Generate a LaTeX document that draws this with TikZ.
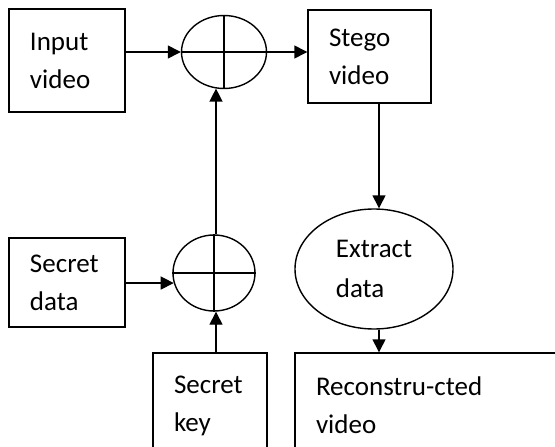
\documentclass[tikz,border=0pt]{standalone}
\usepackage{fontspec}
\setmainfont{Carlito}
\usetikzlibrary{arrows.meta,shapes.geometric}

\tikzset{
  box/.style={draw, line width=1.4pt, rectangle, inner ysep=0pt, inner xsep=21pt,
              align=left, font=\fontsize{27}{38}\selectfont},
  mixer/.style={draw, line width=1.4pt, ellipse, inner sep=0pt},
  oval/.style={draw, line width=1.4pt, ellipse, inner sep=0pt, align=left,
               font=\fontsize{27}{40}\selectfont},
  flow/.style={line width=1.4pt, -{Triangle[length=13pt,width=13pt]}},
  wire/.style={line width=1.4pt}
}

\begin{document}
\begin{tikzpicture}[x=1pt,y=-1pt]
  \clip (0,0) rectangle (555,447);
  \fill[white] (0,0) rectangle (555,447);

  % blocks
  \node[box, minimum width=116pt, minimum height=103pt, text width=74pt]
    (input) at (67,60.5) {Input\\video};
  \node[box, minimum width=123pt, minimum height=93pt, text width=81pt]
    (stego) at (369.5,56.5) {Stego\\video};
  \node[box, minimum width=116pt, minimum height=89pt, text width=74pt]
    (sdata) at (67,282.5) {Secret\\data};
  \node[box, minimum width=114pt, minimum height=105pt, text width=72pt]
    (skey) at (210,405.5) {Secret\\key};
  \node[box, minimum width=305pt, minimum height=105pt, text width=263pt]
    (recon) at (447.5,405.5) {Reconstru-cted\\video};

  % combiners
  \node[mixer, minimum width=85pt, minimum height=73pt] (c1) at (224,52) {};
  \node[mixer, minimum width=82pt, minimum height=76pt] (c2) at (214,273) {};
  \draw[wire] (c1.north) -- (c1.south) (c1.west) -- (c1.east);
  \draw[wire] (c2.north) -- (c2.south) (c2.west) -- (c2.east);

  % extraction stage
  \node[oval, minimum width=158pt, minimum height=120pt] (ext) at (374,269)
    {Extract\\data};

  % connector columns
  \coordinate (vx) at (216,0);
  \coordinate (ax) at (379,0);

  % connectors
  \draw[flow] (input.east |- c1.west) -- (c1.west);
  \draw[flow] (c1.east) -- (c1.east -| stego.west);
  \draw[flow] (sdata.east |- c2.194) -- (c2.194);
  \draw[flow] (skey.north -| vx) -- (c2.south -| vx);
  \draw[flow] (c2.north -| vx) -- ([yshift=0.6pt]c1.south -| vx);
  \draw[flow] (stego.south -| ax) -- (ext.north -| ax);
  \draw[flow] (ext.south -| ax) -- (recon.north -| ax);
\end{tikzpicture}
\end{document}
